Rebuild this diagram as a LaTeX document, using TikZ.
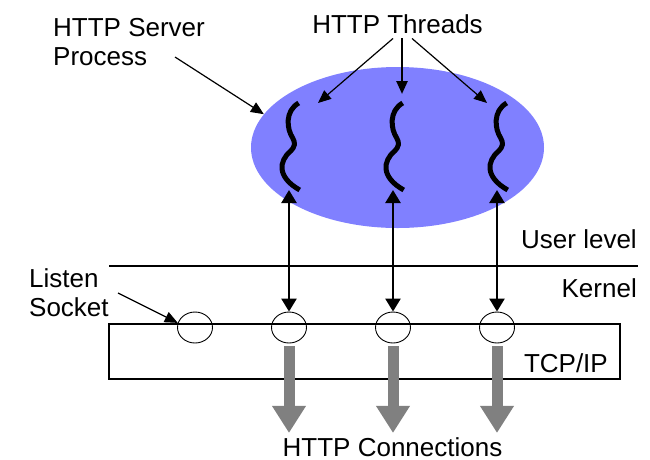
\documentclass[tikz,border=0pt]{standalone}
\usepackage{fontspec}
\setmainfont{Liberation Sans}
\usetikzlibrary{arrows.meta,shapes.geometric}
\definecolor{procBlue}{RGB}{128,128,255}
\definecolor{connGray}{RGB}{128,128,128}
\tikzset{
  lbl/.style={font=\fontsize{26}{29}\selectfont, inner sep=0pt},
  ptr/.style={-{Triangle[length=13pt,width=11pt]}, line width=1.2pt},
  link/.style={{Triangle[length=13pt,width=15pt]}-{Triangle[length=13pt,width=15pt]},
               line width=2.5pt},
  sockbox/.style={draw, ellipse, line width=0.9pt, minimum width=35pt,
                  minimum height=31pt, inner sep=0pt},
  conn/.style={-{Triangle[length=27pt,width=32pt]}, line width=11pt, draw=connGray},
  thread/.style={line width=5pt}
}

\begin{document}
\begin{tikzpicture}[x=1pt,y=-1pt]
  \useasboundingbox (0,0) rectangle (650,459);

  % server process and its threads
  \node[ellipse, fill=procBlue, minimum width=293pt, minimum height=161pt,
        inner sep=0pt] (proc) at (397.5,147.5) {};
  \foreach \x in {298.7,402.7,506.7} {
    \begin{scope}[shift={(\x,103)}]
      \draw[thread] (0,0) .. controls (-14,8) and (-12,26) .. (-6,35)
                    .. controls (-3,40) and (-4,44) .. (-8,48)
                    .. controls (-20,58) and (-22,74) .. (1,87);
    \end{scope}
  }

  % kernel side
  \draw[line width=2pt] (109,266) -- (638,266);
  \node[draw, line width=2pt, minimum width=511pt, minimum height=55pt,
        inner sep=0pt] (tcp) at (364.5,351.5) {};
  \node[sockbox] (sock0) at (195,327.5) {};
  \node[sockbox] (sock1) at (289,327.5) {};
  \node[sockbox] (sock2) at (393,327.5) {};
  \node[sockbox] (sock3) at (497,327.5) {};

  % labels
  \node[lbl, anchor=north west, align=left] (server) at (53,18) {HTTP Server\\Process};
  \node[lbl, inner sep=5pt, anchor=base] (threads) at (397.5,33) {HTTP Threads};
  \node[lbl, anchor=north west, align=left] (listen) at (29,268) {Listen\\Socket};
  \node[lbl, anchor=base east] (user) at (637,248) {User level};
  \node[lbl, anchor=base east] (kernel) at (637,297) {Kernel};
  \node[lbl, anchor=base east] (tcplbl) at (608,372) {TCP/IP};
  \node[lbl, anchor=base] (conns) at (392.5,456) {HTTP Connections};

  \coordinate (srvfrom) at (175,57);
  \coordinate (lsnfrom) at (118,293);
  \coordinate (tip1) at (318,103);
  \coordinate (tip2) at (402,94);
  \coordinate (tip3) at (487,103);
  \coordinate (thrb1) at (289,190);
  \coordinate (thrb2) at (393,190);
  \coordinate (thrb3) at (497,190);

  \draw[ptr] (srvfrom) -- (proc.166);
  \draw[ptr] (lsnfrom) -- (sock0.165);
  \draw[ptr] ([xshift=-4.5pt]threads.south) -- (tip1);
  \draw[ptr, line width=2.5pt] ([xshift=4.5pt]threads.south) -- (tip2);
  \draw[ptr] ([xshift=14.5pt]threads.south) -- (tip3);

  \foreach \i in {1,2,3} {
    \draw[link] (thrb\i) -- (sock\i.north);
    \draw[conn] ([yshift=-3pt]sock\i.south) -- ([yshift=4pt]sock\i.south |- conns.north);
  }
\end{tikzpicture}
\end{document}
